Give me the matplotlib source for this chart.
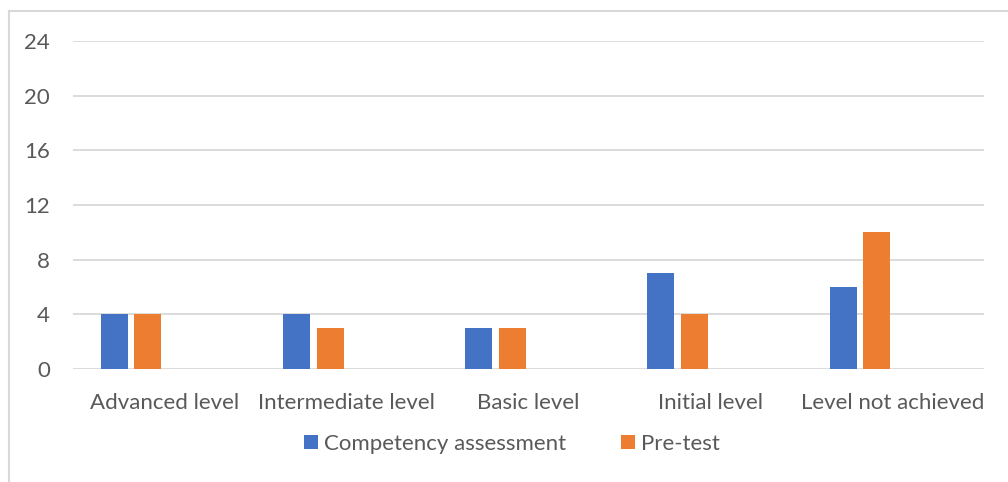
import matplotlib
matplotlib.use("Agg")
import matplotlib.pyplot as plt
from matplotlib.lines import Line2D
import numpy as np

categories = ["Advanced level", "Intermediate level", "Basic level", "Initial level", "Level not achieved"]
competency = [4, 4, 3, 7, 6]
pretest = [4, 3, 3, 4, 10]
series_names = ["Competency assessment", "Pre-test"]
yticks = [0, 4, 8, 12, 16, 20, 24]

plt.rcParams['font.family'] = ['Lato', 'DejaVu Sans']
txt = '#595959'
grid = '#D9D9D9'
fs = 16

W, H = 1008, 482
fig = plt.figure(figsize=(W/100, H/100), dpi=100)
ax = fig.add_axes([73/W, 1-369/H, (984-73)/W, (369-41)/H])

x = np.arange(len(categories))
bw = 0.148
ax.bar(x - 0.273, competency, bw, color='#4472C4', label=series_names[0], zorder=3)
ax.bar(x - 0.089, pretest, bw, color='#ED7D31', label=series_names[1], zorder=3)

ax.set_xlim(-0.5, len(categories) - 0.5)
ax.set_ylim(0, 24)
ax.set_yticks(yticks)
ax.set_yticklabels([str(v) for v in yticks], fontsize=fs, color=txt)
ax.set_xticks(x)
ax.set_xticklabels(categories, fontsize=fs, color=txt)
ax.tick_params(axis='both', length=0)
ax.tick_params(axis='y', pad=16.5)
ax.tick_params(axis='x', pad=17)
ax.grid(axis='y', color=grid, linewidth=1.3, zorder=0)
for s in ax.spines.values():
    s.set_visible(False)

leg = fig.legend(loc='center', bbox_to_anchor=(512/W, 1-444/H), ncol=2, frameon=False,
                 fontsize=fs, handlelength=0.62, handleheight=0.62, handletextpad=0.25,
                 columnspacing=2.5)
for t in leg.get_texts():
    t.set_color(txt)

fig.add_artist(Line2D([9/W, 9/W], [0, 1-11/H], color=grid, linewidth=1.5, transform=fig.transFigure))
fig.add_artist(Line2D([9/W, 1], [1-11/H, 1-11/H], color=grid, linewidth=1.5, transform=fig.transFigure))

fig.savefig('out.png', dpi=100, facecolor='white')
